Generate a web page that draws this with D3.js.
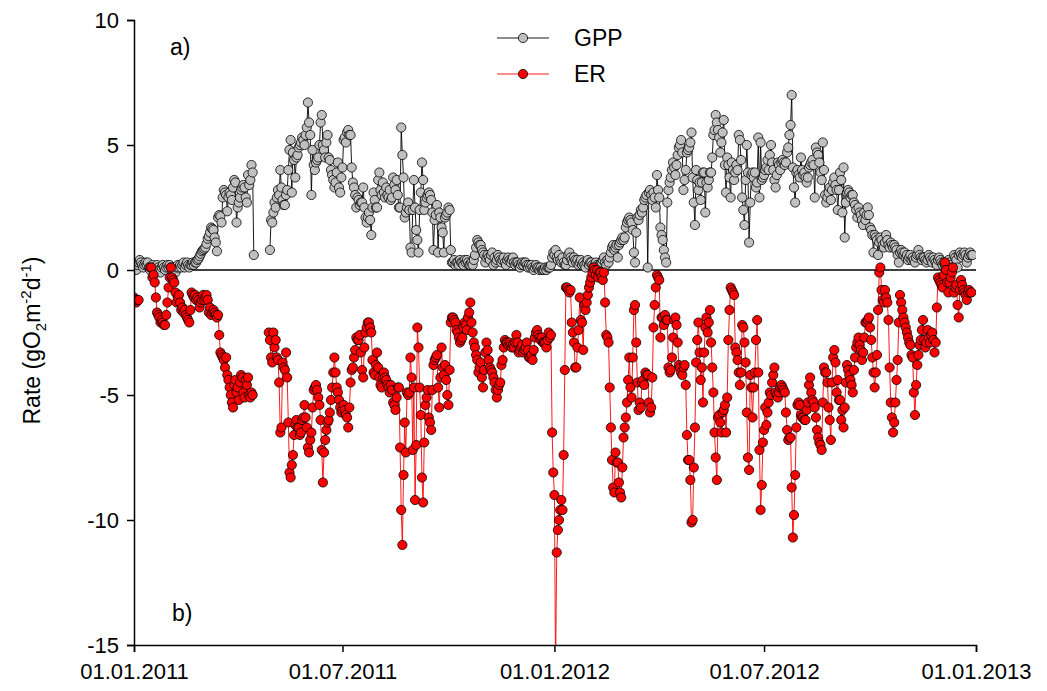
<!DOCTYPE html>
<html>
<head>
<meta charset="utf-8">
<script src="https://cdn.jsdelivr.net/npm/d3@7/dist/d3.min.js"></script>
<style>
  html, body { margin: 0; padding: 0; background: #fff; }
  svg { display: block; font-family: "Liberation Sans", Arial, sans-serif; }
</style>
</head>
<body>
<svg id="chart" width="1047" height="691"></svg>
<script>
// Daily gross primary production (GPP) and ecosystem respiration (ER), gO2 m-2 d-1.
// One value per calendar day starting 1 January of each year; null = no measurement.
const gpp2011 = [
  0.0,0.1,0.0,0.2,0.3,0.4,0.3,0.2,0.1,0.2,
  0.3,0.2,0.3,0.1,0.0,0.1,0.2,0.1,0.0,0.1,
  0.2,0.1,0.0,-0.1,0.1,0.2,0.1,0.0,0.1,0.2,
  0.1,0.2,0.1,0.0,0.1,0.0,-0.1,0.1,0.2,0.1,
  0.2,0.1,0.2,0.3,0.1,0.2,0.3,0.2,0.1,0.2,
  0.2,0.3,0.2,0.3,0.3,0.4,0.45,0.55,0.65,0.75,
  0.8,0.85,0.9,1.05,1.25,1.35,1.5,1.7,1.65,1.6,
  1.3,1.1,0.75,2.1,2.2,2.15,1.9,2.9,3.2,3.1,
  3.0,2.35,2.9,3.1,3.0,2.8,3.3,3.6,3.5,1.9,
  2.5,2.7,2.9,3.2,3.3,3.4,3.3,2.9,2.7,3.8,
  3.4,3.6,4.2,3.9,0.6,null,null,null,null,null,
  null,null,null,null,null,null,null,null,0.8,2.0,
  1.9,2.3,2.7,2.5,2.9,3.2,3.0,4.0,3.3,2.8,
  2.6,2.6,3.0,3.2,4.0,4.8,5.2,3.1,4.7,4.4,
  3.7,4.5,4.6,4.9,5.0,5.1,5.3,5.2,5.0,5.4,
  5.7,6.7,5.9,5.4,3.0,4.8,4.2,4.0,4.3,4.4,
  4.5,5.0,5.9,6.2,5.0,4.8,4.5,5.1,5.4,4.5,
  4.4,4.0,3.8,3.6,3.3,3.5,3.9,4.3,3.3,3.1,
  3.7,4.1,5.2,5.3,5.1,5.5,5.6,5.4,5.4,4.1,
  3.5,3.3,3.0,2.5,2.9,2.8,2.6,2.7,2.7,3.3,
  2.5,2.1,1.9,2.1,2.3,2.0,1.4,2.5,3.1,2.8,
  2.5,2.5,3.6,3.9,3.2,3.0,3.5,3.1,2.9,3.3,
  3.0,2.9,3.2,2.8,2.9,3.7,3.4,3.2,3.6,3.0,
  2.5,2.5,5.7,4.6,3.7,2.1,2.3,2.5,2.7,2.4,
  0.9,0.7,2.4,3.6,2.5,1.6,1.2,0.7,2.4,3.1,
  4.3,3.6,2.4,2.7,2.9,3.0,3.1,3.0,2.8,2.3,
  0.8,2.0,2.2,2.6,0.7,2.3,2.1,1.7,1.5,0.7,
  2.1,2.2,2.3,2.5,2.4,0.8,0.3,0.3,0.4,0.2,
  0.3,0.3,0.2,0.4,0.3,0.3,0.2,0.4,0.3,0.4,
  0.3,0.2,0.2,0.3,0.2,0.4,0.6,0.9,1.2,1.1,
  1.0,1.0,0.8,0.7,0.6,0.3,0.5,0.6,0.5,0.4,
  0.6,0.7,0.2,0.5,0.3,0.4,0.6,0.5,0.4,0.3,
  0.4,0.5,0.3,0.2,0.4,0.5,0.4,0.3,0.4,0.5,
  0.3,0.2,0.3,0.3,0.2,0.1,0.2,0.3,0.2,0.3,
  0.3,0.2,0.1,0.2,0.1,0.2,0.1,0.0,0.1,0.2,
  0.1,0.1,0.0,0.1,0.0,0.0,0.0,0.1,0.0,0.1,
  0.1,0.1,0.2,0.5,0.7
];

const gpp2012 = [
  0.6,0.8,0.5,0.4,0.6,0.4,0.3,0.5,0.3,0.2,
  0.2,0.4,0.6,0.7,0.5,0.4,0.3,0.5,0.4,0.3,
  0.4,0.2,0.3,0.4,0.2,0.3,0.2,0.1,0.3,0.4,
  0.2,0.3,0.3,0.2,0.1,0.2,0.3,0.2,0.1,0.2,
  0.2,0.3,0.4,0.5,0.3,0.2,0.4,0.3,0.5,0.7,
  0.9,1.0,0.8,0.9,1.0,0.5,1.0,1.1,1.2,1.3,
  1.2,1.3,1.7,1.9,2.0,2.1,2.0,1.9,1.6,0.7,
  0.3,1.5,2.1,2.0,2.2,2.4,2.3,2.5,2.8,2.9,
  3.0,0.1,3.1,3.2,3.0,2.8,3.1,2.9,2.5,3.8,
  3.2,2.9,1.7,1.4,1.2,0.8,0.5,0.3,2.7,3.2,
  3.5,3.7,4.0,4.3,4.1,3.8,4.2,4.6,4.9,5.0,
  5.2,4.7,3.2,3.6,4.0,4.7,4.8,4.9,5.1,5.5,
  3.7,2.7,1.8,4.0,3.6,3.2,3.5,2.8,3.5,3.9,
  3.9,2.3,3.5,3.3,3.6,3.9,3.9,4.5,5.4,5.6,
  6.2,5.9,5.6,5.3,4.7,5.1,5.5,6.0,4.2,3.1,
  4.5,4.2,3.7,2.9,4.3,4.0,3.6,3.9,4.2,4.0,
  5.4,5.2,4.4,2.9,2.4,1.8,3.6,5.0,3.9,1.1,
  2.7,3.8,3.9,3.7,3.9,3.3,3.5,5.3,2.9,5.1,
  3.6,3.7,3.8,4.0,4.1,4.4,4.0,4.6,5.0,4.3,
  4.0,3.6,3.3,3.8,4.3,4.2,4.0,4.3,4.4,4.3,
  4.2,4.3,4.7,4.9,5.4,5.8,7.0,4.1,3.3,2.7,
  3.9,4.0,3.8,3.7,4.5,4.0,3.8,3.9,3.7,3.5,
  3.7,4.1,4.2,4.3,4.4,4.2,2.9,4.9,4.7,4.6,
  4.3,3.9,3.6,5.1,4.0,3.0,2.7,2.9,3.1,3.3,
  2.8,3.2,3.5,3.7,3.4,3.2,2.4,3.2,3.9,3.6,
  2.3,4.1,1.3,2.7,3.1,3.2,3.1,2.9,3.0,3.0,
  2.7,2.6,2.4,2.1,2.5,2.3,2.2,2.0,1.8,2.3,
  2.0,2.2,2.5,2.2,1.7,1.6,1.4,0.7,1.4,1.3,
  1.2,0.6,1.1,1.3,1.2,1.0,0.9,1.1,1.4,1.2,
  1.0,0.9,1.1,1.0,0.9,1.0,0.9,0.8,0.6,0.3,
  0.7,0.8,0.7,0.6,0.7,0.5,0.6,0.4,0.5,0.6,
  0.4,0.5,0.4,0.3,0.5,0.6,0.8,0.6,0.5,0.4,
  0.5,0.5,0.4,0.3,0.4,0.6,0.5,0.4,0.3,0.5,
  0.4,0.3,0.2,0.4,0.5,0.4,0.3,0.2,0.3,0.2,
  0.1,0.3,0.4,0.3,0.2,0.1,0.0,0.6,0.5,0.4,
  0.1,0.6,0.7,0.6,0.5,0.6,0.7,0.6,0.3,0.5,
  0.6,0.7,0.6,0.6
];

const er2011 = [
  -1.1,-1.2,-1.3,-1.2,-1.2,null,null,null,null,null,
  null,null,null,null,0.1,0.1,-0.3,-0.2,-0.5,-1.1,
  -1.7,-1.8,-1.9,-2.1,-2.0,-2.1,-2.2,-2.2,-1.8,-1.3,
  -0.7,-0.3,0.1,-0.3,-0.4,-0.5,-0.9,-1.3,-1.1,-1.0,
  -1.3,-1.6,-1.5,-1.7,-1.6,-1.8,-1.9,-2.0,-2.1,-1.6,
  -0.9,-1.0,-1.1,-1.0,-1.2,-1.1,-1.2,-1.5,-1.3,-1.2,
  -1.0,-1.2,-1.1,-1.0,-1.2,-1.7,-1.5,-1.8,-1.7,-1.6,
  -1.7,-1.8,-1.9,-1.8,-2.6,-3.3,-3.4,-3.5,-3.6,-3.9,
  -3.5,-4.2,-4.4,-4.7,-5.0,-5.3,-5.5,-4.6,-4.4,-4.9,
  -4.7,-5.2,-4.5,-4.2,-4.3,-4.9,-5.1,-4.4,-4.6,-4.3,
  -5.0,-5.1,-4.9,-5.0,null,null,null,null,null,null,
  null,null,null,null,null,null,null,-2.5,-2.8,-3.5,
  -3.7,-2.5,-3.1,-2.8,-3.5,-3.6,-4.5,-6.5,-6.3,-3.7,
  -3.9,-4.0,-3.3,-4.3,-6.1,-8.1,-8.3,-7.8,-7.4,-6.6,
  -6.2,-6.0,-6.3,-6.3,-6.6,-6.5,-6.0,-5.9,-5.4,-5.9,
  -6.3,-7.1,-7.3,-6.8,-6.5,-5.5,-4.8,-4.7,-4.6,-4.8,
  -5.1,-5.4,-6.0,-7.2,-8.5,-7.3,-6.8,-6.4,-6.1,-6.0,
  -5.7,-5.2,-4.7,-4.1,-3.5,-4.1,-4.7,-4.9,-5.2,-5.5,
  -5.7,-5.6,-5.4,-5.6,-5.8,-5.9,-6.3,-5.5,-4.5,-4.0,
  -3.9,-3.5,-3.2,-2.7,-2.8,-2.8,-2.6,-3.3,-4.0,-4.3,
  -3.1,-2.5,-2.3,-2.1,-2.1,-2.3,-2.5,-3.6,-4.1,-4.2,
  -3.8,-3.3,-3.9,-4.3,-4.6,-4.7,-4.3,-4.1,-4.3,-4.4,
  -4.6,-4.7,-4.9,-4.6,-4.8,-5.3,-5.4,-5.6,-5.1,-4.7,
  -4.7,-7.1,-9.6,-11.0,-8.2,-6.1,-7.3,-4.9,-5.0,-4.9,
  -3.5,-4.3,-7.2,-4.7,-9.2,-7.0,-2.3,-3.1,-4.7,-5.8,
  -8.3,-9.3,-6.9,-5.4,-5.1,-4.8,-5.9,-6.1,-6.4,-4.8,
  -3.8,-3.6,-3.5,-3.4,-4.7,-5.5,-4.3,-3.1,-3.9,-4.2,
  -3.8,-4.4,-5.0,-5.4,-4.0,-2.1,-1.9,-1.9,-2.0,-2.1,
  -2.4,-2.5,-2.7,-2.9,-2.8,-2.7,-2.3,-2.1,-2.2,-2.4,
  -1.9,-1.7,-1.3,-2.1,-2.5,-2.9,-3.1,-3.4,-3.6,-4.1,
  -3.9,-3.7,-4.3,-4.7,-4.0,-3.3,-2.9,-3.2,-3.6,-3.9,
  -4.0,-4.1,-4.3,-4.5,-4.8,-5.1,-4.8,-4.6,-4.5,-3.8,
  -3.6,-3.1,-2.8,-2.9,-2.9,-3.0,-2.9,-3.0,-3.1,-3.0,
  -3.1,-2.9,-2.6,-2.9,-3.3,-3.2,-3.1,-3.0,-3.3,-3.2,
  -3.1,-2.9,-3.2,-3.5,-3.5,-3.4,-3.6,-3.2,-2.7,-2.5,
  -2.4,-2.6,-2.7,-2.8,-2.7,-2.9,-2.9,-2.9,-3.1,-2.8,
  -2.5,-2.7,-2.6,-6.5,-8.1
];

const er2012 = [
  -9.0,-16.0,-11.3,-10.4,-10.0,-9.6,-9.2,-9.6,-7.4,-4.0,
  -0.7,-0.7,-0.8,-0.9,-0.8,-2.1,-2.5,-2.9,-3.9,-3.9,
  -3.1,-2.4,-1.1,-2.0,-2.1,-3.2,-1.4,-1.6,-1.3,-1.0,
  -0.7,-0.5,-0.3,-0.1,0.1,0.0,-0.2,0.0,-0.3,-0.1,
  -0.1,-0.3,-0.4,-0.1,-1.3,-2.6,-2.7,-2.9,-4.7,-6.3,
  -7.6,-8.7,-8.9,-7.3,-7.7,-7.7,-8.5,-8.9,-9.1,-7.9,
  -6.7,-6.3,-5.9,-5.3,-4.4,-3.5,-4.7,-5.1,-3.5,-1.6,
  -1.4,-2.9,-4.5,-5.6,-5.3,-5.5,-4.5,-4.4,-4.6,-4.1,
  -4.2,-4.2,-5.3,-5.7,-5.5,-4.3,-2.3,-1.4,-0.7,-0.2,
  -0.3,-0.4,-2.7,-1.9,-1.9,-2.2,-1.8,-2.0,-2.0,-3.9,
  -4.1,-4.0,-3.5,-2.7,-2.0,-1.9,-2.2,-2.9,-3.8,-3.9,
  -4.1,-4.2,-3.9,-3.8,-4.6,-6.6,-7.6,-7.6,-8.4,-10.1,
  -10.0,-7.9,-6.3,-3.7,-2.8,-2.1,-3.3,-4.4,-3.9,-5.3,
  -3.3,-2.3,-1.9,-2.5,-2.1,-1.6,-2.9,-3.9,-4.9,-6.5,
  -7.5,-8.4,-5.9,-5.8,-6.1,-6.5,-5.7,-5.6,-5.4,-6.5,
  -5.1,-2.8,-1.6,-0.7,-0.8,-0.9,-1.0,-3.1,-3.3,-3.6,
  -4.1,-4.6,-4.1,-2.2,-2.3,-2.9,-3.7,-5.7,-7.5,-8.0,
  -4.2,-4.7,-5.9,-4.7,-4.1,-2.8,-2.0,-4.1,-7.2,-9.6,
  -8.6,-6.9,-6.4,-5.5,-6.2,-5.7,-5.3,-4.9,-5.0,-4.5,
  -4.2,-3.9,-4.9,-5.0,-5.1,-4.9,-4.7,-4.6,-4.7,-4.8,
  -4.9,-5.7,-6.4,-6.8,-6.7,-6.7,-8.7,-10.7,-9.8,-8.2,
  -6.3,-5.4,-5.3,-5.4,-5.8,-5.9,-5.9,-6.0,-6.0,-5.6,
  -5.3,-4.6,-4.3,-4.9,-5.2,-5.3,-5.5,-5.9,-6.4,-6.7,
  -6.9,-7.0,-7.2,-5.3,-3.9,-4.1,-4.1,-4.5,-5.5,-6.0,
  -6.8,-4.5,-3.5,-3.2,-3.7,-4.9,-4.4,-5.2,-5.2,-6.0,
  -5.6,-6.3,-5.5,-4.5,-3.8,-4.0,-4.2,-4.4,-4.6,-4.9,
  -4.0,-3.5,-3.1,-2.9,-2.7,-3.0,-3.2,-3.6,-3.3,-2.7,
  -2.1,-2.1,-2.0,-1.9,-2.3,-2.8,-3.5,-4.1,-4.7,-4.1,
  -3.4,-1.6,-0.1,0.1,-0.8,-1.2,-1.3,-0.8,-1.1,-1.3,
  -2.0,-3.9,-5.3,-5.9,-6.5,-6.1,-5.3,-4.4,-3.6,-2.1,
  -1.0,-1.3,-1.6,-1.9,-2.1,-2.3,-2.5,-2.7,-2.9,-3.0,
  -3.4,-3.5,-4.9,-5.8,-4.6,-3.8,-3.4,-3.0,-2.8,-2.4,
  -2.0,-2.8,-3.1,-2.9,-2.4,-2.7,-2.9,-2.6,-2.5,-2.8,
  -3.3,-2.9,-1.5,-0.3,-0.4,-0.5,-0.6,-0.7,-0.2,0.3,
  0.0,-0.5,-0.9,-0.5,-0.3,-0.1,0.1,-0.9,-0.7,-0.6,
  -1.4,-1.9,-0.8,-0.4,-0.6,-0.8,-0.9,-1.0,-1.2,-0.9,
  -0.8,-0.9,-0.9
];

const yTicks = [-15, -10, -5, 0, 5, 10];
const xTickDates = ["2011-01-01", "2011-07-01", "2012-01-01", "2012-07-01", "2013-01-01"];
const seriesNames = ["GPP", "ER"];

// Turn the per-year daily arrays into dated points.
function daily(year, values) {
  return values.map((v, i) => ({ date: new Date(Date.UTC(year, 0, 1 + i)), v }));
}
const gpp = daily(2011, gpp2011).concat(daily(2012, gpp2012));
const er = daily(2011, er2011).concat(daily(2012, er2012));

const svg = d3.select("#chart");
const plot = { left: 134, right: 976, top: 20, bottom: 645 };

const x = d3.scaleUtc()
  .domain([new Date(Date.UTC(2011, 0, 1)), new Date(Date.UTC(2013, 0, 1))])
  .range([plot.left, plot.right]);
const y = d3.scaleLinear().domain([-15, 10]).range([plot.bottom, plot.top]);

svg.append("defs").append("clipPath").attr("id", "plot-clip")
  .append("rect")
  .attr("x", plot.left).attr("y", plot.top)
  .attr("width", plot.right - plot.left).attr("height", plot.bottom - plot.top);

// zero reference line
svg.append("line")
  .attr("x1", plot.left).attr("x2", plot.right)
  .attr("y1", y(0)).attr("y2", y(0))
  .attr("stroke", "#000").attr("stroke-width", 1.6);

const line = d3.line()
  .defined(d => d.v !== null)
  .x(d => x(d.date))
  .y(d => y(d.v));

const layer = svg.append("g").attr("clip-path", "url(#plot-clip)");

function drawSeries(data, lineColor, fill) {
  layer.append("path")
    .datum(data)
    .attr("fill", "none")
    .attr("stroke", lineColor)
    .attr("stroke-width", 0.9)
    .attr("d", line);
  layer.append("g")
    .selectAll("circle")
    .data(data.filter(d => d.v !== null))
    .join("circle")
    .attr("cx", d => x(d.date))
    .attr("cy", d => y(d.v))
    .attr("r", 4.6)
    .attr("fill", fill)
    .attr("stroke", "#000")
    .attr("stroke-width", 0.8);
}

drawSeries(gpp, "#000", "#c0c0c0");
drawSeries(er, "#ff0000", "#ff0000");

// axes
const fmt = d3.utcFormat("%d.%m.%Y");
const xAxis = d3.axisBottom(x)
  .tickValues(xTickDates.map(s => new Date(s + "T00:00:00Z")))
  .tickFormat(fmt)
  .tickSizeOuter(0)
  .tickSize(7);
const gx = svg.append("g").attr("transform", `translate(0,${plot.bottom})`).call(xAxis);
gx.selectAll("text").attr("font-size", 22).attr("fill", "#000").attr("dy", "1.08em")
  .attr("font-family", "Liberation Sans, Arial, sans-serif");

const yAxis = d3.axisLeft(y).tickValues(yTicks).tickFormat(d => String(d))
  .tickSizeOuter(0).tickSize(7);
const gy = svg.append("g").attr("transform", `translate(${plot.left},0)`).call(yAxis);
gy.selectAll("text").attr("font-size", 22).attr("fill", "#000").attr("x", -15)
  .attr("font-family", "Liberation Sans, Arial, sans-serif");

[gx, gy].forEach(g => {
  g.select(".domain").attr("stroke", "#000").attr("stroke-width", 1.5);
  g.selectAll(".tick line").attr("stroke", "#000").attr("stroke-width", 1.5);
});

// y-axis title with sub/superscripts
const title = svg.append("text")
  .attr("transform", `translate(40,${(plot.top + plot.bottom) / 2 + 8}) rotate(-90)`)
  .attr("text-anchor", "middle")
  .attr("font-size", 23)
  .attr("fill", "#000");
title.append("tspan").text("Rate (gO");
title.append("tspan").attr("font-size", 15).attr("dy", 6).text("2");
title.append("tspan").attr("dy", -6).text("m");
title.append("tspan").attr("font-size", 15).attr("dy", -9).text("-2");
title.append("tspan").attr("dy", 9).text("d");
title.append("tspan").attr("font-size", 15).attr("dy", -9).text("-1");
title.append("tspan").attr("dy", 9).text(")");

// panel labels
svg.append("text").attr("x", 170).attr("y", 55).attr("font-size", 23).text("a)");
svg.append("text").attr("x", 172).attr("y", 621).attr("font-size", 23).text("b)");

// legend
const legend = svg.append("g");
const legendItems = [
  { name: seriesNames[0], y: 38, stroke: "#000", fill: "#c0c0c0" },
  { name: seriesNames[1], y: 74, stroke: "#ff0000", fill: "#ff0000" }
];
legendItems.forEach(it => {
  legend.append("line").attr("x1", 497).attr("x2", 549).attr("y1", it.y).attr("y2", it.y)
    .attr("stroke", it.stroke).attr("stroke-width", 0.9);
  legend.append("circle").attr("cx", 523).attr("cy", it.y).attr("r", 4.6)
    .attr("fill", it.fill).attr("stroke", "#000").attr("stroke-width", 0.8);
  legend.append("text").attr("x", 574).attr("y", it.y + 8).attr("font-size", 23).text(it.name);
});
</script>
</body>
</html>
